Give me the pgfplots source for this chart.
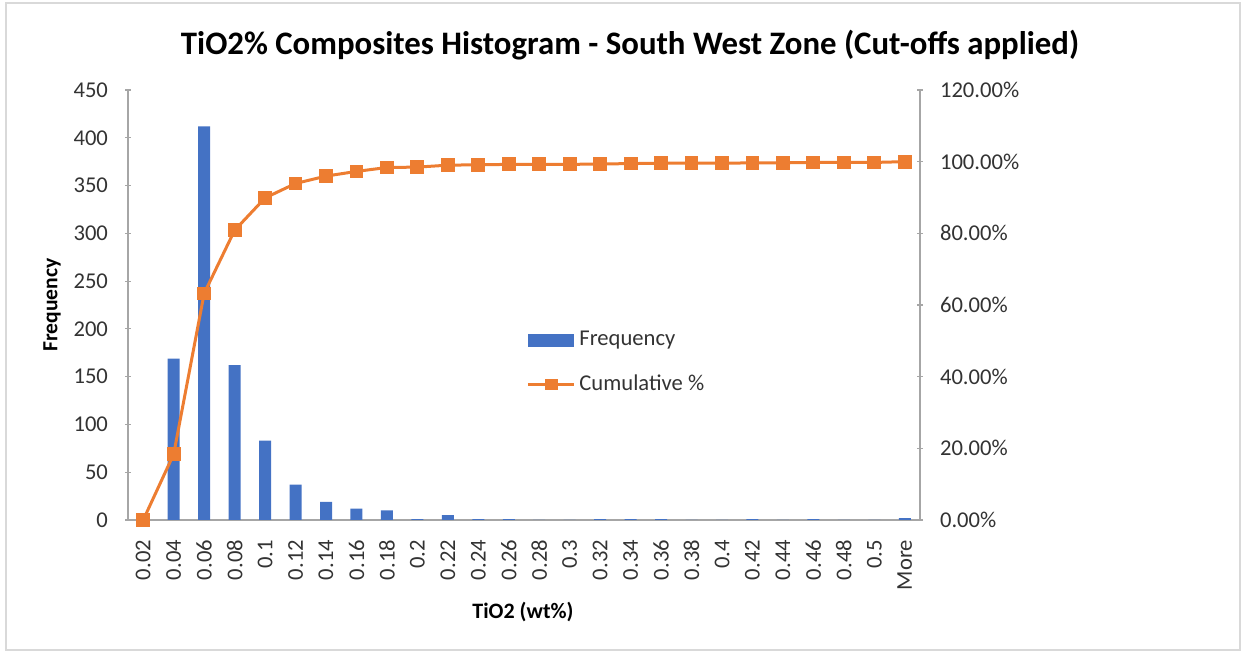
\documentclass[border=0pt]{standalone}
\usepackage{pgfplots}
\pgfplotsset{compat=1.18}
\usepackage{fontspec}
\setmainfont{Carlito}
\definecolor{xlblue}{HTML}{4472C4}
\definecolor{xlorange}{HTML}{ED7D31}
\definecolor{axgray}{HTML}{A6A6A6}
\definecolor{txt}{HTML}{333333}
\begin{document}
\begin{tikzpicture}
\path[use as bounding box] (0pt,0pt) rectangle (625.5pt,326pt);
\draw[gray!30, line width=0.6pt] (3pt,1pt) rectangle (620pt,324.5pt);
\pgfplotsset{
  common/.style={
    scale only axis, width=396pt, height=215pt,
    at={(64pt,66pt)}, anchor=south west,
    xmin=-0.5, xmax=25.5,
    tick align=outside,
    major tick length=3pt, minor tick length=4pt,
    tick style={axgray, line width=0.6pt},
    ticklabel style={font=\fontsize{11.3}{13}\selectfont, text=txt},
    /pgf/number format/assume math mode=true,
    clip=false,
  },
  noarrows/.style={
    axis line style={-, axgray, line width=0.6pt},
    every outer y axis line/.append style={-},
    every inner y axis line/.append style={-},
    every outer x axis line/.append style={-},
    every inner x axis line/.append style={-},
    y axis line style={-}, x axis line style={-},
  }
}
\begin{axis}[common,
  axis x line=bottom, axis y line=left, noarrows,
  ymin=0, ymax=450, ytick={0,50,...,450},
  yticklabel style={xshift=-5pt},
  xtick={0,...,25},
  xticklabels={0.02,0.04,0.06,0.08,0.1,0.12,0.14,0.16,0.18,0.2,0.22,0.24,0.26,0.28,0.3,0.32,0.34,0.36,0.38,0.4,0.42,0.44,0.46,0.48,0.5,More},
  xtick style={draw=none},
  minor xtick={-0.5,0.5,...,25.5},
  minor x tick style={axgray, line width=0.6pt},
  xticklabel style={rotate=90, anchor=east},
  xticklabel shift=5pt,
  legend style={at={(0.495,0.458)}, anchor=north west, draw=none, fill=none,
    font=\fontsize{11.3}{13}\selectfont, text=txt, row sep=9pt},
  legend cell align=left,
]
\addplot[ybar, bar width=6pt, fill=xlblue, draw=none,
  legend image code/.code={\fill[xlblue] (0pt,-3.2pt) rectangle (23pt,3.2pt);}]
coordinates {
(0,0) (1,169) (2,412) (3,162) (4,83) (5,37) (6,19) (7,12) (8,10) (9,1)
(10,5) (11,1) (12,1) (13,0) (14,0) (15,1) (16,1) (17,1) (18,0) (19,0)
(20,1) (21,0) (22,1) (23,0) (24,0) (25,2)};
\addlegendentry{Frequency}
\addlegendimage{legend image code/.code={
  \draw[xlorange, line width=1.5pt] (0pt,0pt) -- (23pt,0pt);
  \fill[xlorange] (8.5pt,-2.7pt) rectangle (14.5pt,2.7pt);}}
\addlegendentry{Cumulative \%}
\end{axis}
\begin{axis}[common,
  axis x line=none, axis y line=right, noarrows,
  ymin=0, ymax=120, ytick={0,20,...,120},
  yticklabel style={xshift=5pt},
  yticklabel={\pgfmathprintnumber[fixed,fixed zerofill,precision=2]{\tick}\%},
]
\addplot[xlorange, line width=1.5pt, mark=square*, mark size=2.7pt,
  mark options={fill=xlorange, draw=xlorange}]
coordinates {
(0,0) (1,18.39) (2,63.22) (3,80.85) (4,89.88) (5,93.91) (6,95.97) (7,97.28)
(8,98.37) (9,98.48) (10,99.02) (11,99.13) (12,99.24) (13,99.24) (14,99.24)
(15,99.35) (16,99.46) (17,99.56) (18,99.56) (19,99.56) (20,99.67) (21,99.67)
(22,99.78) (23,99.78) (24,99.78) (25,100)};
\end{axis}
\node[font=\bfseries\fontsize{16.4}{19}\selectfont, text=black] at (315pt,303.5pt)
  {TiO2\% Composites Histogram - South West Zone (Cut-offs applied)};
\node[rotate=90, font=\bfseries\fontsize{10.8}{12}\selectfont, text=black] at (26pt,173.5pt) {Frequency};
\node[font=\bfseries\fontsize{11}{12}\selectfont, text=black] at (261.5pt,20pt) {TiO2 (wt\%)};
\end{tikzpicture}
\end{document}
